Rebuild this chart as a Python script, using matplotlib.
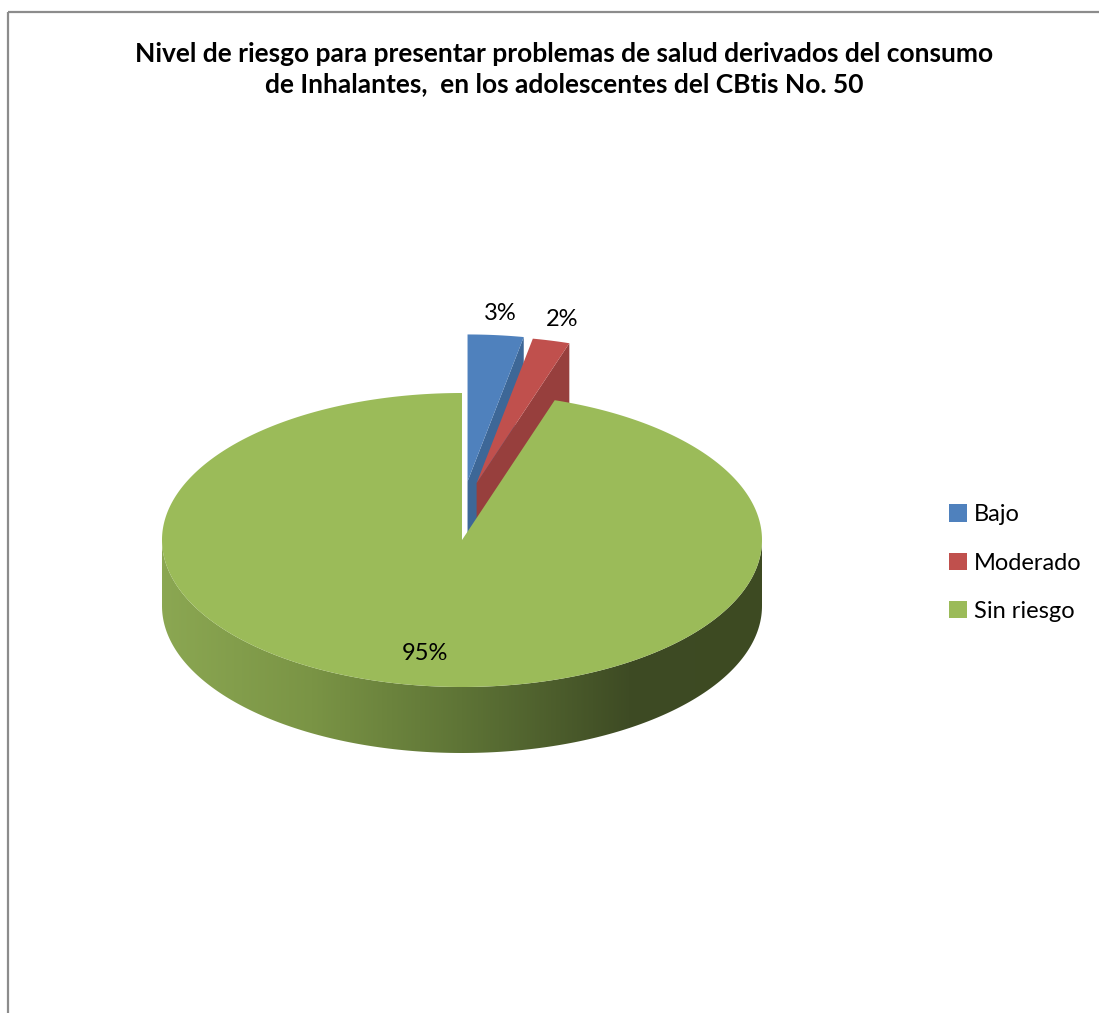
import numpy as np
import matplotlib.pyplot as plt
from matplotlib.patches import Polygon, Patch, Rectangle
from matplotlib.colors import LinearSegmentedColormap

# Datos del grafico
categories = ['Bajo', 'Moderado', 'Sin riesgo']
percents = [3, 2, 95]
labels = [f'{p}%' for p in percents]

# Estilo de cada rebanada
explode = [0.4, 0.4, 0.0]
label_r = [1.15, 1.15, 0.78]
top_colors = ['#4f81bd', '#c0504d', '#9bbb59']
side_colors = ['#3d6797', '#973f3d', '#5f7537']
wall_stops = [(0.0, '#8ba752'), (0.25, '#7a9445'), (0.5, '#5e7436'),
              (0.78, '#3e4b24'), (1.0, '#3d4a22')]

title = ('Nivel de riesgo para presentar problemas de salud derivados del consumo\n'
         'de Inhalantes,  en los adolescentes del CBtis No. 50')

W, H = 1099, 1013
cx, cy = 462, 540
rx, ry = 300, 147
depth = 66

plt.rcParams['font.family'] = ['Lato', 'DejaVu Sans']


def rim(theta, r=1.0):
    t = np.radians(theta)
    return cx + r * rx * np.sin(t), cy - r * ry * np.cos(t)


def offset(i, mid):
    # desplazamiento de la rebanada separada, en pantalla
    t = np.radians(mid)
    return explode[i] * ry * np.sin(t), -explode[i] * ry * np.cos(t)


fig = plt.figure(figsize=(W / 100, H / 100), dpi=100)
ax = fig.add_axes([0, 0, 1, 1])

bounds = np.concatenate([[0], np.cumsum(percents) / sum(percents) * 360])
z = 2
for i in range(len(percents)):
    a0, a1 = bounds[i], bounds[i + 1]
    ox, oy = offset(i, (a0 + a1) / 2)
    px, py = cx + ox, cy + oy

    # caras de corte que miran al frente
    for a, vis in ((a1, np.sin(np.radians(a1)) > 1e-6),
                   (a0, np.sin(np.radians(a0)) < -1e-6)):
        if vis:
            ex, ey = rim(a)
            ex, ey = ex + ox, ey + oy
            face = [(px, py), (ex, ey), (ex, ey + depth), (px, py + depth)]
            ax.add_patch(Polygon(face, closed=True, fc=side_colors[i], ec='none', zorder=z))
            z += 1

    # pared exterior (solo la mitad frontal)
    lo, hi = max(a0, 90), min(a1, 270)
    if hi > lo:
        th = np.linspace(lo, hi, 200)
        wx, wy = rim(th)
        wx, wy = wx + ox, wy + oy
        pts = np.column_stack([np.concatenate([wx, wx[::-1]]),
                               np.concatenate([wy, wy[::-1] + depth])])
        wall = Polygon(pts, closed=True, fc='none', ec='none', zorder=z)
        ax.add_patch(wall)
        cmap = LinearSegmentedColormap.from_list('wall', wall_stops)
        grad = np.linspace(0, 1, 512)[None, :]
        im = ax.imshow(grad, cmap=cmap, aspect='auto', zorder=z,
                       extent=(cx - rx + ox, cx + rx + ox, cy + ry + depth + oy, cy + oy),
                       interpolation='bilinear')
        im.set_clip_path(wall)
        z += 1

    # cara superior
    th = np.linspace(a0, a1, max(int(a1 - a0) * 3, 10))
    tx, ty = rim(th)
    pts = np.column_stack([np.concatenate([[px], tx + ox]),
                           np.concatenate([[py], ty + oy])])
    ax.add_patch(Polygon(pts, closed=True, fc=top_colors[i], ec='none', zorder=z))
    z += 1

# etiquetas de porcentaje
for i in range(len(percents)):
    mid = (bounds[i] + bounds[i + 1]) / 2
    ox, oy = offset(i, mid)
    lx, ly = rim(mid, label_r[i])
    ax.text(lx + ox, ly + oy, labels[i], ha='center', va='center',
            fontsize=17, color='black', zorder=50)

ax.text(564, 69, title, ha='center', va='center', fontsize=19,
        fontweight='bold', linespacing=1.3, zorder=50)

handles = [Patch(fc=c, ec='none') for c in top_colors]
ax.legend(handles, categories, loc='center left', frameon=False,
          bbox_to_anchor=(928 / W, 1 - 563 / H), fontsize=17,
          handlelength=0.75, handleheight=0.75, handletextpad=0.3,
          labelspacing=1.15)

# borde del area del grafico
ax.add_patch(Rectangle((8, 12), W + 50, H + 50, fill=False,
                       ec='#8c8c8c', lw=1.6, zorder=60))

ax.set_xlim(0, W)
ax.set_ylim(H, 0)
ax.axis('off')

fig.savefig('out.png', dpi=100, facecolor='white')
